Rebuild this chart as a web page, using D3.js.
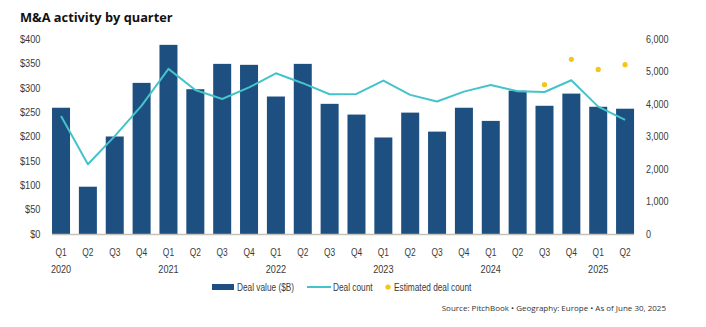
<!DOCTYPE html>
<html>
<head>
<meta charset="utf-8">
<script src="https://cdn.jsdelivr.net/npm/d3@7"></script>
<style>
  html, body { margin: 0; padding: 0; background: #fff; }
  svg { display: block; }
</style>
</head>
<body>
<svg id="chart" width="706" height="327"></svg>
<script>
const quarters = ["Q1","Q2","Q3","Q4","Q1","Q2","Q3","Q4","Q1","Q2","Q3","Q4","Q1","Q2","Q3","Q4","Q1","Q2","Q3","Q4","Q1","Q2"];
const years = ["2020","","","","2021","","","","2022","","","","2023","","","","2024","","","","2025",""];
const dealValue = [259, 97, 200, 310, 388, 297, 349, 347, 282, 349, 267, 245, 198, 249, 210, 259, 232, 294, 263, 288, 261, 257];
const dealCount = [3630, 2145, 3010, 3950, 5080, 4430, 4155, 4510, 4945, 4640, 4300, 4310, 4720, 4280, 4075, 4380, 4585, 4390, 4370, 4730, 3920, 3510];
const estimatedCount = [null, null, null, null, null, null, null, null, null, null, null, null, null, null, null, null, null, null, 4595, 5375, 5065, 5210];
const leftTicks = [0, 50, 100, 150, 200, 250, 300, 350, 400];
const rightTicks = [0, 1000, 2000, 3000, 4000, 5000, 6000];
const legendLabels = ["Deal value ($B)", "Deal count", "Estimated deal count"];

const barColor = "#1d4f80";
const lineColor = "#45c3cb";
const dotColor = "#f5c518";
const textColor = "#3a3a3a";
const tickFont = "'Liberation Sans', Arial, sans-serif";
const fs = 10.5;

const svg = d3.select("#chart");
const idx = d3.range(quarters.length);

const x = d3.scaleBand().domain(idx).range([47.6, 638.5]).paddingInner(0.33).paddingOuter(0.165);
const yL = d3.scaleLinear().domain([0, 400]).range([234, 39]);
const yR = d3.scaleLinear().domain([0, 6000]).range([234, 39]);
const cx = i => x(i) + x.bandwidth() / 2;

// helper: horizontally condensed text
function ctext(sel, px, py, sx) {
  return sel.attr("x", 0).attr("y", 0)
    .attr("transform", (d, i) => `translate(${px(d, i)},${py(d, i)}) scale(${sx},1)`)
    .attr("font-family", tickFont).attr("font-size", fs).attr("fill", textColor);
}

// Title
svg.append("text").attr("x", 20).attr("y", 22)
  .attr("font-family", "'Open Sans', 'Lato', sans-serif").attr("font-weight", 700)
  .attr("font-size", 12.8).attr("fill", "#111").text("M&A activity by quarter");

// Left axis labels
ctext(svg.append("g").selectAll("text").data(leftTicks).join("text"),
  () => 40.5, d => yL(d) + 3.8, 0.88)
  .attr("text-anchor", "end").text(d => "$" + d);

// Right axis labels
ctext(svg.append("g").selectAll("text").data(rightTicks).join("text"),
  () => 646, d => yR(d) + 3.8, 0.86)
  .attr("text-anchor", "start").text(d => d3.format(",")(d));

// Bars
svg.append("g").selectAll("rect").data(idx).join("rect")
  .attr("x", i => x(i)).attr("width", x.bandwidth())
  .attr("y", i => yL(dealValue[i])).attr("height", i => yL(0) - yL(dealValue[i]))
  .attr("fill", barColor);

// Baseline
svg.append("line")
  .attr("x1", x(0)).attr("x2", x(idx.length - 1) + x.bandwidth())
  .attr("y1", yL(0) + 0.5).attr("y2", yL(0) + 0.5)
  .attr("stroke", "#c4c2ba").attr("stroke-width", 1.5);

// Deal count line
svg.append("path").datum(idx)
  .attr("d", d3.line().x(i => cx(i)).y(i => yR(dealCount[i])))
  .attr("fill", "none").attr("stroke", lineColor).attr("stroke-width", 2)
  .attr("stroke-linejoin", "round");

// Estimated dots
svg.append("g").selectAll("circle").data(idx.filter(i => estimatedCount[i] != null)).join("circle")
  .attr("cx", i => cx(i)).attr("cy", i => yR(estimatedCount[i])).attr("r", 2.6)
  .attr("fill", dotColor);

// Quarter labels
ctext(svg.append("g").selectAll("text").data(idx).join("text"),
  i => cx(i), () => 255.5, 0.8)
  .attr("text-anchor", "middle").text(i => quarters[i]);

// Year labels
ctext(svg.append("g").selectAll("text").data(idx.filter(i => years[i])).join("text"),
  i => cx(i), () => 273, 0.87)
  .attr("text-anchor", "middle").text(i => years[i]);

// Legend
const lg = svg.append("g");
lg.append("rect").attr("x", 212).attr("y", 284).attr("width", 22).attr("height", 6).attr("fill", barColor);
ctext(lg.append("text"), () => 237, () => 291, 0.79).text(legendLabels[0]);
lg.append("line").attr("x1", 307).attr("x2", 331).attr("y1", 287).attr("y2", 287)
  .attr("stroke", lineColor).attr("stroke-width", 2);
ctext(lg.append("text"), () => 333, () => 291, 0.79).text(legendLabels[1]);
lg.append("circle").attr("cx", 388).attr("cy", 287).attr("r", 2.6).attr("fill", dotColor);
ctext(lg.append("text"), () => 394, () => 291, 0.79).text(legendLabels[2]);

// Source
svg.append("text").attr("x", 666).attr("y", 311).attr("text-anchor", "end")
  .attr("font-family", "'Open Sans', 'Lato', sans-serif").attr("font-size", 8).attr("fill", "#333")
  .text("Source: PitchBook  \u2022  Geography: Europe  \u2022  As of June 30, 2025");
</script>
</body>
</html>
